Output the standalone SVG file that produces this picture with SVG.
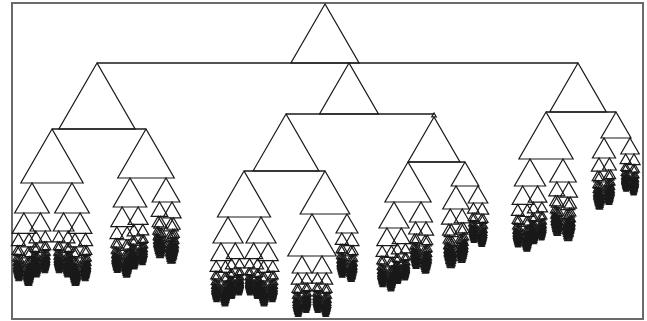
<svg xmlns="http://www.w3.org/2000/svg" width="647" height="321" viewBox="0 0 647 321">
<style>
.frame{fill:none;stroke:#6a6a6a;stroke-width:2}
.conn{fill:none;stroke:#1a1a1a;stroke-width:1.3}
</style>
<defs>
<path id="t" d="M0,0L-0.5774,1H0.5774Z" fill="none" stroke="#1a1a1a" stroke-width="1.2" vector-effect="non-scaling-stroke"/>
<g id="g0"><use href="#t"/></g>
<g id="g1"><use href="#t"/><use href="#g0" transform="translate(-0.07,1) scale(-0.82,0.82)"/><use href="#g0" transform="translate(0.1,1) scale(0.72)"/></g>
<g id="g2"><use href="#t"/><use href="#g1" transform="translate(-0.07,1) scale(-0.82,0.82)"/><use href="#g1" transform="translate(0.1,1) scale(0.72)"/></g>
<g id="g3"><use href="#t"/><use href="#g2" transform="translate(-0.07,1) scale(-0.82,0.82)"/><use href="#g2" transform="translate(0.1,1) scale(0.72)"/></g>
<g id="g4"><use href="#t"/><use href="#g3" transform="translate(-0.07,1) scale(-0.82,0.82)"/><use href="#g3" transform="translate(0.1,1) scale(0.72)"/></g>
<g id="g5"><use href="#t"/><use href="#g4" transform="translate(-0.07,1) scale(-0.82,0.82)"/><use href="#g4" transform="translate(0.1,1) scale(0.72)"/></g>
<g id="g6"><use href="#t"/><use href="#g5" transform="translate(-0.25,1) scale(-0.66,0.66)"/><use href="#g5" transform="translate(0.27,1) scale(0.6)"/></g>
<g id="g7"><use href="#t"/><use href="#g6" transform="translate(-0.27,1) scale(-0.68,0.68)"/><use href="#g6" transform="translate(0.28,1) scale(0.6)"/></g>
</defs>
<rect class="frame" x="12" y="3" width="631" height="316"/>
<g id="connectors">
<path class="conn" d="M97,63H578"/>
<path class="conn" d="M52,129H146"/>
<path class="conn" d="M286,114H434"/>
<path class="conn" d="M244,171H325"/>
<path class="conn" d="M408,162H465"/>
<path class="conn" d="M546,112H616"/>
</g>
<g id="n-root"><use href="#t" transform="translate(325,4) scale(59)"/></g>
<g id="n-A"><use href="#t" transform="translate(97,63) scale(66)"/></g>
<g id="n-A1"><use href="#t" transform="translate(52,129) scale(54)"/></g>
<g id="n-A2"><use href="#t" transform="translate(146,129) scale(49)"/></g>
<g id="n-B"><use href="#t" transform="translate(349,63) scale(51)"/></g>
<g id="n-B1"><use href="#t" transform="translate(286,114) scale(57)"/></g>
<g id="n-B1a"><use href="#t" transform="translate(244,171) scale(46)"/></g>
<g id="n-B1b"><use href="#t" transform="translate(325,171) scale(43)"/></g>
<g id="n-B1b1"><use href="#t" transform="translate(312,214) scale(42)"/></g>
<g id="n-Bt"><use href="#t" transform="translate(434,113) scale(4)"/></g>
<g id="n-B2"><use href="#t" transform="translate(434,117) scale(45)"/></g>
<g id="n-B2a"><use href="#t" transform="translate(408,162) scale(40)"/></g>
<g id="n-B2b"><use href="#t" transform="translate(465,162) scale(24)"/></g>
<g id="n-C"><use href="#t" transform="translate(578,63) scale(49)"/></g>
<g id="n-C1"><use href="#t" transform="translate(546,112) scale(47)"/></g>
<g id="n-C2"><use href="#t" transform="translate(616,112) scale(26)"/></g>
<g id="sub-A1a"><use href="#g7" transform="translate(32,183) scale(30)"/></g>
<g id="sub-A1b"><use href="#g7" transform="translate(72,183) scale(-30,30)"/></g>
<g id="sub-A2a"><use href="#g7" transform="translate(130,178) scale(29)"/></g>
<g id="sub-A2b"><use href="#g6" transform="translate(166,178) scale(-24,24)"/></g>
<g id="sub-B1a1"><use href="#g7" transform="translate(228,217) scale(26)"/></g>
<g id="sub-B1a2"><use href="#g7" transform="translate(261,217) scale(-26,26)"/></g>
<g id="sub-B1b1a"><use href="#g6" transform="translate(302,256) scale(17)"/></g>
<g id="sub-B1b1b"><use href="#g6" transform="translate(322,256) scale(-17,17)"/></g>
<g id="sub-B1b2"><use href="#g6" transform="translate(347,214) scale(-19,19)"/></g>
<g id="sub-B2a1"><use href="#g7" transform="translate(394,202) scale(26)"/></g>
<g id="sub-B2a2"><use href="#g6" transform="translate(421,202) scale(-20,20)"/></g>
<g id="sub-B2b1"><use href="#g6" transform="translate(456,186) scale(23)"/></g>
<g id="sub-B2b2"><use href="#g6" transform="translate(478,186) scale(-17,17)"/></g>
<g id="sub-C1a"><use href="#g7" transform="translate(530,159) scale(27)"/></g>
<g id="sub-C1b"><use href="#g6" transform="translate(563,159) scale(-23,23)"/></g>
<g id="sub-C2a"><use href="#g6" transform="translate(604,138) scale(20)"/></g>
<g id="sub-C2b"><use href="#g6" transform="translate(630,138) scale(-16,16)"/></g>
</svg>
